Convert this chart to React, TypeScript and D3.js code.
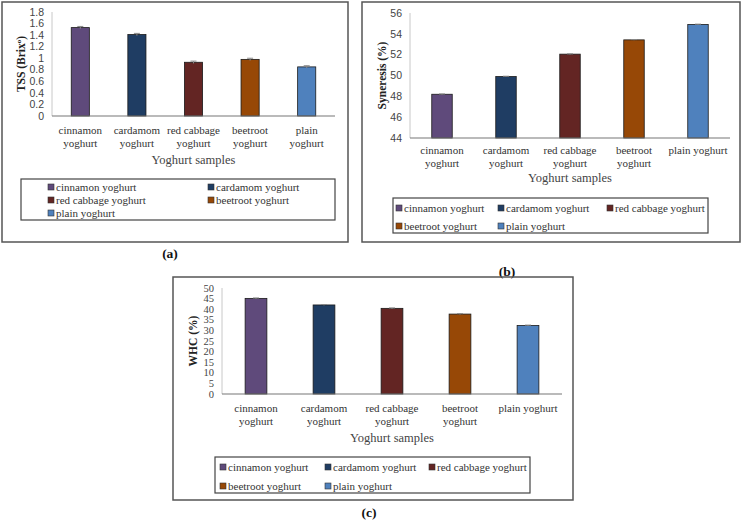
import React from "react";
import * as d3 from "d3";

const categories = ["cinnamon yoghurt", "cardamom yoghurt", "red cabbage yoghurt", "beetroot yoghurt", "plain yoghurt"];
const colors = ["#5f4a7b", "#1f3d63", "#632523", "#974806", "#4f81bd"];

const tssValues = [1.53, 1.41, 0.93, 0.98, 0.85];
const tssErrors = [0.02, 0.02, 0.02, 0.02, 0.02];
const tssTicks = [0, 0.2, 0.4, 0.6, 0.8, 1, 1.2, 1.4, 1.6, 1.8];

const synValues = [48.2, 49.9, 52.05, 53.42, 54.9];
const synErrors = [0.03, 0.03, 0.03, 0.03, 0.03];
const synTicks = [44, 46, 48, 50, 52, 54, 56];

const whcValues = [45.1, 42.0, 40.4, 37.7, 32.3];
const whcErrors = [0.2, 0.2, 0.2, 0.2, 0.2];
const whcTicks = [0, 5, 10, 15, 20, 25, 30, 35, 40, 45, 50];

// tick-label line breaks per panel
const wrapTwo = [["cinnamon", "yoghurt"], ["cardamom", "yoghurt"], ["red cabbage", "yoghurt"], ["beetroot", "yoghurt"], ["plain", "yoghurt"]];
const wrapLast = [["cinnamon", "yoghurt"], ["cardamom", "yoghurt"], ["red cabbage", "yoghurt"], ["beetroot", "yoghurt"], ["plain yoghurt"]];

const serif = "'Liberation Serif', 'Times New Roman', serif";
const sans = "'Liberation Sans', Arial, sans-serif";

type Layout = {
    frame: { x: number; y: number; w: number; h: number };
    plot: { left: number; right: number; top: number; bottom: number };
    yTitleX: number;
    catY: number;
    xTitleY: number;
    legend: { x: number; y: number; w: number; h: number; colX: number[]; rowY: number[]; cols: number };
    tag: { x: number; y: number; text: string };
    tickFont: string;
};

type PanelProps = {
    values: number[];
    errors: number[];
    ticks: number[];
    domain: [number, number];
    yTitle: React.ReactNode;
    wrap: string[][];
    layout: Layout;
};

const Panel = ({values, errors, ticks, domain, yTitle, wrap, layout}: PanelProps) => {
    const {frame, plot, legend, tag} = layout;
    const x = d3.scaleBand<string>().domain(categories).range([plot.left, plot.right]);
    const y = d3.scaleLinear().domain(domain).range([plot.bottom, plot.top]);
    const barW = x.bandwidth() * 0.32;
    const yMid = (plot.top + plot.bottom) / 2;

    return (
        <g>
            <rect x={frame.x} y={frame.y} width={frame.w} height={frame.h} fill="none" stroke="#555" strokeWidth={1.5}/>
            {/* y axis */}
            <line x1={plot.left} x2={plot.left} y1={plot.top} y2={plot.bottom} stroke="#c8c8c8"/>
            {ticks.map((t, i) => (
                <text key={i} x={plot.left - 8} y={y(t)} dy="0.35em" textAnchor="end"
                      style={{fontSize: "10.5px", fontFamily: layout.tickFont}} fill="#444">
                    {String(+t.toFixed(1))}
                </text>
            ))}
            <text transform={`translate(${layout.yTitleX}, ${yMid}) rotate(-90)`} textAnchor="middle" dy="0.35em"
                  style={{fontSize: "11.5px", fontFamily: serif, fontWeight: "bold"}} fill="#222">
                {yTitle}
            </text>
            {/* bars */}
            {values.map((v, i) => {
                const cx = x(categories[i])! + x.bandwidth() / 2;
                return (
                    <g key={i}>
                        <rect x={cx - barW / 2} y={y(v)} width={barW} height={plot.bottom - y(v)}
                              fill={colors[i]} stroke="#1a1a1a" strokeWidth={0.8}/>
                        <line x1={cx} x2={cx} y1={y(v + errors[i])} y2={y(v - errors[i])} stroke="#888"/>
                        <line x1={cx - 3} x2={cx + 3} y1={y(v + errors[i])} y2={y(v + errors[i])} stroke="#888"/>
                    </g>
                );
            })}
            <line x1={plot.left} x2={plot.right} y1={plot.bottom} y2={plot.bottom} stroke="#777" strokeWidth={1.2}/>
            {/* category labels */}
            {wrap.map((lines, i) => {
                const cx = x(categories[i])! + x.bandwidth() / 2;
                return lines.map((ln, j) => (
                    <text key={`${i}-${j}`} x={cx} y={layout.catY + j * 13} dy="0.35em" textAnchor="middle"
                          style={{fontSize: "11px", fontFamily: serif}} fill="#333">
                        {ln}
                    </text>
                ));
            })}
            <text x={(plot.left + plot.right) / 2} y={layout.xTitleY} dy="0.35em" textAnchor="middle"
                  style={{fontSize: "12.5px", fontFamily: serif}} fill="#444">
                Yoghurt samples
            </text>
            {/* legend */}
            <rect x={legend.x} y={legend.y} width={legend.w} height={legend.h} fill="none" stroke="#444" strokeWidth={1.2}/>
            {categories.map((c, i) => {
                const lx = legend.colX[i % legend.cols];
                const ly = legend.rowY[Math.floor(i / legend.cols)];
                return (
                    <g key={c}>
                        <rect x={lx} y={ly - 3} width={6} height={6} fill={colors[i]} stroke="#333" strokeWidth={0.6}/>
                        <text x={lx + 8} y={ly} dy="0.35em" style={{fontSize: "11px", fontFamily: serif}} fill="#333">
                            {c}
                        </text>
                    </g>
                );
            })}
            <text x={tag.x} y={tag.y} dy="0.35em" textAnchor="middle"
                  style={{fontSize: "13.5px", fontFamily: serif, fontWeight: "bold"}} fill="#111">
                {tag.text}
            </text>
        </g>
    );
};

const layoutA: Layout = {
    frame: {x: 2, y: 2, w: 346, h: 240},
    plot: {left: 52, right: 335, top: 12, bottom: 116},
    yTitleX: 21,
    catY: 130,
    xTitleY: 160,
    legend: {x: 21, y: 179, w: 314, h: 41, cols: 2, colX: [48, 208], rowY: [187, 200, 213]},
    tag: {x: 170, y: 253, text: "(a)"},
    tickFont: sans,
};

const layoutB: Layout = {
    frame: {x: 362, y: 2, w: 378, h: 240},
    plot: {left: 410, right: 730, top: 13, bottom: 138},
    yTitleX: 382,
    catY: 150,
    xTitleY: 178,
    legend: {x: 393, y: 198, w: 315, h: 35, cols: 3, colX: [396, 498, 607], rowY: [208, 226]},
    tag: {x: 507, y: 271, text: "(b)"},
    tickFont: sans,
};

const layoutC: Layout = {
    frame: {x: 173, y: 277, w: 400, h: 223},
    plot: {left: 222, right: 562, top: 288, bottom: 394},
    yTitleX: 193,
    catY: 408,
    xTitleY: 438,
    legend: {x: 215, y: 457, w: 315, h: 36, cols: 3, colX: [220, 325, 429], rowY: [467, 486]},
    tag: {x: 369, y: 512, text: "(c)"},
    tickFont: serif,
};

const App = () => {
    return (
        <svg width={743} height={520} style={{position: "absolute", left: 0, top: 0, background: "white"}}>
            <rect width={743} height={520} fill="white"/>
            <Panel values={tssValues} errors={tssErrors} ticks={tssTicks} domain={[0, 1.8]}
                   yTitle={<>TSS (Brix<tspan dy="-4" style={{fontSize: "7px"}}>o</tspan><tspan dy="4">)</tspan></>}
                   wrap={wrapTwo} layout={layoutA}/>
            <Panel values={synValues} errors={synErrors} ticks={synTicks} domain={[44, 56]}
                   yTitle="Syneresis (%)" wrap={wrapLast} layout={layoutB}/>
            <Panel values={whcValues} errors={whcErrors} ticks={whcTicks} domain={[0, 50]}
                   yTitle="WHC  (%)" wrap={wrapLast} layout={layoutC}/>
        </svg>
    );
};

export default App;
